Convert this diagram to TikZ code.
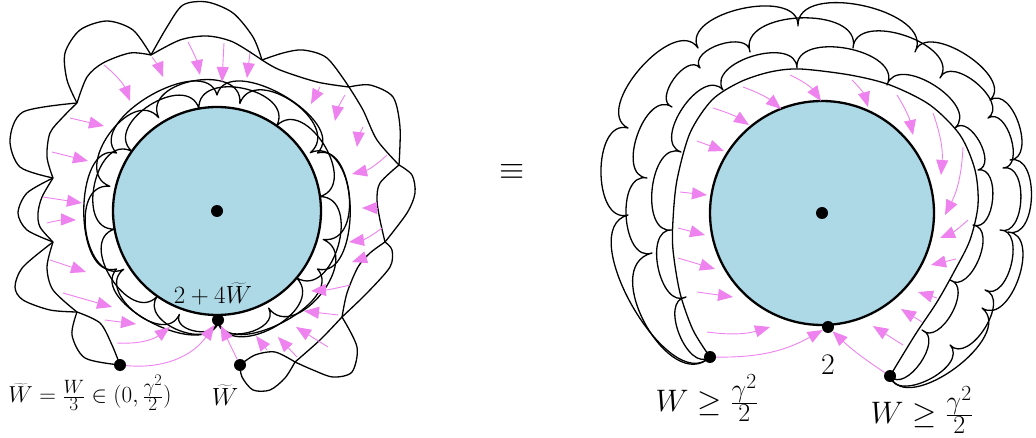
\documentclass[tikz,border=0pt]{standalone}
\usetikzlibrary{arrows.meta}
\definecolor{mag}{RGB}{238,130,238}
\definecolor{disc}{RGB}{173,216,230}
\tikzset{
  blk/.style={line width=1.3pt, line join=round},
  sc/.style={relative, out=-105, in=-75, looseness=#1},
  sc/.default=1.3,
  mg/.style={draw=mag, line width=0.9pt, -{Triangle[length=15pt,width=12pt]}},
  dot/.style={circle, fill=black, inner sep=0pt, minimum size=12pt},
  lab/.style={font=\fontsize{24.88}{30}\selectfont, inner sep=0pt},
  discst/.style={fill=disc, draw=black, line width=2.3pt}
}
\begin{document}
\begin{tikzpicture}[x=1pt,y=1pt]
\useasboundingbox (0,0) rectangle (1036,-438);
% discs
\draw[discst] (217,-211) circle (104);
\draw[discst] (822,-213) circle (112);
% coordinates of dots
\coordinate (d0) at (218,-320);
\coordinate (d1) at (120,-365);
\coordinate (d2) at (240,-365);
\coordinate (e0) at (828,-327);
\coordinate (e1) at (710,-357);
\coordinate (e2) at (890,-376);

% ---------- left figure: inner scallop rings ----------
\begin{scope}[shift={(217,-211)}]
\draw[blk] (d0) to[sc=1.3] (-40:104) to[sc=1.3] (8:104) to[sc=1.3] (55:104) to[sc=1.3] (100:104) to[sc=1.3] (145:104) to[sc=1.3] (190:104) to[sc=1.3] (235:104) to[sc=1.3] (d0);
\draw[blk] (d0) to[sc=1.3] (-62:110) to[sc=1.3] (-15:110) to[sc=1.3] (32:110) to[sc=1.3] (78:110) to[sc=1.3] (122:110) to[sc=1.3] (167:110) to[sc=1.3] (212:110) to[sc=1.3] (250:110) to[sc=1.3] (d0);
\draw[blk] (d0) to[sc=1.0] (-30:116) to[sc=1.0] (30:116) to[sc=1.0] (90:116) to[sc=1.0] (150:116) to[sc=1.0] (210:116) to[sc=1.0] (d0);
\end{scope}

% ---------- left figure: outer chain of beads ----------
\draw[blk] plot[smooth] coordinates {(120,-365) (85,-358) (72,-335) (77,-312)};
\draw[blk] plot[smooth] coordinates {(120,-365) (112,-345) (100,-323) (77,-312)};
\draw[blk] plot[smooth] coordinates {(77,-312) (50,-310) (23,-300) (15,-287) (23,-267) (53,-242)};
\draw[blk] plot[smooth] coordinates {(77,-312) (53,-290) (47,-267) (53,-242)};
\draw[blk] plot[smooth] coordinates {(53,-242) (27,-230) (18,-213) (27,-193) (53,-178)};
\draw[blk] plot[smooth] coordinates {(53,-242) (40,-227) (38,-213) (42,-197) (53,-178)};
\draw[blk] plot[smooth] coordinates {(53,-178) (20,-167) (10,-140) (23,-112) (77,-103)};
\draw[blk] plot[smooth] coordinates {(53,-178) (47,-157) (50,-133) (63,-117) (77,-103)};
\draw[blk] plot[smooth] coordinates {(77,-103) (67,-80) (65,-53) (80,-30) (107,-21) (133,-30) (151,-55)};
\draw[blk] plot[smooth] coordinates {(77,-103) (87,-77) (103,-63) (130,-53) (151,-55)};
\draw[blk] plot[smooth] coordinates {(151,-55) (167,-27) (183,-5) (207,-2) (233,-13) (253,-37) (262,-60)};
\draw[blk] plot[smooth] coordinates {(151,-55) (180,-40) (207,-36) (233,-42) (262,-60)};
\draw[blk] plot[smooth] coordinates {(262,-60) (283,-53) (303,-50) (327,-58) (349,-87)};
\draw[blk] plot[smooth] coordinates {(262,-60) (280,-70) (317,-82) (349,-87)};
\draw[blk] plot[smooth] coordinates {(349,-87) (370,-85) (393,-97) (400,-127) (399,-165)};
\draw[blk] plot[smooth] coordinates {(349,-87) (363,-110) (377,-140) (399,-165)};
\draw[blk] plot[smooth] coordinates {(399,-165) (412,-175) (415,-193) (407,-213) (385,-242)};
\draw[blk] plot[smooth] coordinates {(399,-165) (380,-183) (377,-200) (380,-220) (385,-242)};
\draw[blk] plot[smooth] coordinates {(385,-242) (392,-250) (390,-267) (367,-293) (342,-317)};
\draw[blk] plot[smooth] coordinates {(385,-242) (370,-253) (358,-267) (347,-293) (342,-317)};
\draw[blk] plot[smooth] coordinates {(342,-317) (357,-347) (352,-372) (333,-377) (313,-370) (295,-362)};
\draw[blk] plot[smooth] coordinates {(342,-317) (320,-340) (295,-362)};
\draw[blk] plot[smooth] coordinates {(295,-362) (275,-352) (255,-355) (240,-365)};
\draw[blk] plot[smooth] coordinates {(295,-362) (285,-378) (270,-390) (253,-390) (242,-377) (240,-365)};

% ---------- right figure ----------
\draw[blk] plot[smooth] coordinates {(710,-357) (693,-330) (680,-293) (673,-250) (673,-220) (677,-180) (690,-133) (712,-100) (740,-82) (770,-72) (800,-69) (850,-75) (890,-85) (930,-105) (960,-135) (975,-170) (978,-205) (970,-240) (955,-270) (937,-302) (915,-335) (890,-376)};
\draw[blk] (e2) to[sc=1.1] (922,-330) to[sc=1.1] (950,-280) to[sc=1.1] (973,-225) to[sc=1.1] (978,-170) to[sc=1.1] (955,-128) to[sc=1.1] (887,-85) to[sc=1.1] (797,-68) to[sc=1.1] (723,-90) to[sc=1.1] (681,-152) to[sc=1.1] (672,-230) to[sc=1.1] (686,-297) to[sc=1.1] (e1);
\draw[blk] (e2) to[sc=1.1] (950,-345) to[sc=1.1] (985,-290) to[sc=1.1] (1000,-230) to[sc=1.1] (1003,-168) to[sc=1.1] (988,-118) to[sc=1.1] (940,-78) to[sc=1.1] (853,-48) to[sc=1.1] (750,-52) to[sc=1.1] (700,-68) to[sc=1.1] (672,-107) to[sc=1.1] (647,-178) to[sc=1.1] (652,-253) to[sc=1.2] (e1);
\draw[blk] (e2) to[sc=1.0] (982,-308) to[sc=1.1] (1008,-232) to[sc=1.1] (1010,-160) to[sc=1.1] (990,-100) to[sc=1.0] (915,-52) to[sc=1.0] (798,-26) to[sc=1.0] (698,-48) to[sc=1.0] (628,-128) to[sc=1.1] (628,-215) to[sc=0.9] (e1);

% ---------- magenta arrows, left ----------
\draw[mg] (104,-65) to[bend left=15] (130,-101);
\draw[mg] (152,-57) to[bend left=8] (163,-77);
\draw[mg] (188,-42) to[bend left=8] (200,-75);
\draw[mg] (224,-43) to (222,-82);
\draw[mg] (250,-53) to (247,-78);
\draw[mg] (320,-87) to (311,-104);
\draw[mg] (345,-95) to[bend right=10] (335,-121);
\draw[mg] (363,-127) to[bend right=10] (357,-147);
\draw[mg] (387,-155) to[bend left=15] (352,-174);
\draw[mg] (377,-208) to (362,-208);
\draw[mg] (382,-228) to[bend left=15] (349,-242);
\draw[mg] (367,-257) to (352,-262);
\draw[mg] (350,-285) to[bend left=5] (311,-291);
\draw[mg] (338,-315) to (304,-311);
\draw[mg] (328,-347) to (296,-327);
\draw[mg] (297,-357) to (278,-337);
\draw[mg] (267,-350) to (256,-336);
\draw[mg] (117,-343) to[bend right=20] (170,-327);
\draw[mg] (105,-320) to (136,-324);
\draw[mg] (63,-293) to (112,-307);
\draw[mg] (50,-260) to (86,-272);
\draw[mg] (70,-118) to (104,-126);
\draw[mg] (52,-152) to (88,-161);
\draw[mg] (43,-197) to (82,-203);
\draw[mg] (47,-223) to[bend left=8] (76,-220);

% ---------- magenta arrows, right ----------
\draw[mg] (790,-75) to[bend left=15] (821,-101);
\draw[mg] (743,-87) to[bend left=10] (781,-109);
\draw[mg] (713,-108) to[bend left=8] (749,-125);
\draw[mg] (697,-141) to (724,-151);
\draw[mg] (680,-192) to (707,-195);
\draw[mg] (678,-228) to (705,-235);
\draw[mg] (678,-258) to (715,-269);
\draw[mg] (697,-292) to (733,-297);
\draw[mg] (707,-332) to[bend right=12] (770,-327);
\draw[mg] (852,-80) to[bend left=15] (868,-107);
\draw[mg] (897,-95) to[bend left=10] (913,-135);
\draw[mg] (933,-113) to[bend left=12] (941,-175);
\draw[mg] (963,-147) to[bend left=12] (945,-215);
\draw[mg] (968,-220) to[bend left=10] (940,-238);
\draw[mg] (956,-259) to (931,-265);
\draw[mg] (937,-298) to (918,-292);
\draw[mg] (922,-322) to (901,-309);
\draw[mg] (903,-345) to (873,-326);

% ---------- dots ----------
\node[dot] (CL) at (217,-211) {};
\node[dot] (CR) at (822,-213) {};
\node[dot] (D0) at (d0) {};
\node[dot] (D1) at (d1) {};
\node[dot] (D2) at (d2) {};
\node[dot] (E0) at (e0) {};
\node[dot] (E1) at (e1) {};
\node[dot] (E2) at (e2) {};

% ---------- connectors between dots ----------
\draw[mg] (D1) to[bend right=30] (D0);
\draw[mg] (D2) to (D0);
\draw[mg] (E1) to[bend right=15] (E0);
\draw[mg] (E2) to[bend left=5] (E0);

% ---------- labels ----------
\node[lab] (t1) at (213,-294) {$2+4\widetilde{W}$};
\node[lab, scale=0.93, transform shape] (t2) at (90,-393) {$\widetilde{W}=\frac{W}{3}\in(0,\frac{\gamma^2}{2})$};
\node[lab] (t3) at (225,-395) {$\widetilde{W}$};
\node[lab, scale=1.3, transform shape] (eq) at (512,-172) {$\equiv$};
\node[lab, scale=1.2, transform shape] (t4) at (828,-365) {$2$};
\node[lab, scale=1.25, transform shape] (t5) at (707,-398) {$W\geq\frac{\gamma^2}{2}$};
\node[lab, scale=1.25, transform shape] (t6) at (922,-410) {$W\geq\frac{\gamma^2}{2}$};
\end{tikzpicture}
\end{document}
